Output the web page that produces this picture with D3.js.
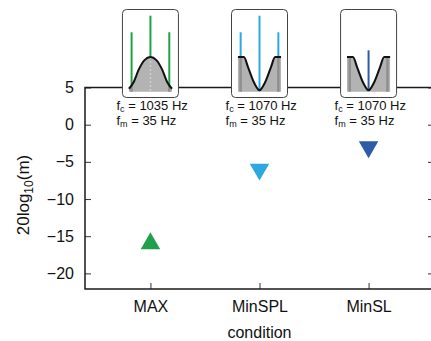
<!DOCTYPE html>
<html>
<head>
<meta charset="utf-8">
<script src="https://cdn.jsdelivr.net/npm/d3@7"></script>
<style>
  body { margin: 0; background: #fff; }
  svg { font-family: "Liberation Sans", Arial, sans-serif; }
</style>
</head>
<body>
<div id="chart"></div>
<script>
// condition data
const categories = ["MAX", "MinSPL", "MinSL"];
const values = [-16, -6, -3];
const markerDirs = ["up", "down", "down"];
const colors = ["#21a04b", "#2ea8e0", "#2d5ba8"];
const yTicks = [5, 0, -5, -10, -15, -20];

// inset (stimulus sketch) data
const carrierHz = [1035, 1070, 1070];
const modHz = [35, 35, 35];
const carrierLevel = [1, 1, 0.54];
const sidebandLevel = [0.78, 0.78, 0];
const filterKind = ["bump", "notch", "notch"];
const bumpHz = [-40, -31, -22, -11, 0, 11, 22, 31, 40];
const bumpLevel = [0.03, 0.12, 0.28, 0.41, 0.45, 0.41, 0.28, 0.12, 0.03];
const notchHz = [-40, -29, -21, -10, 0, 10, 21, 29, 40];
const notchLevel = [0.45, 0.45, 0.31, 0.11, 0.01, 0.11, 0.31, 0.45, 0.45];

const width = 431, height = 341;
const plotLeft = 85, plotRight = 434, plotTop = 87.5, plotBottom = 289;

const svg = d3.select("#chart").append("svg")
  .attr("width", width)
  .attr("height", height);

const x = d3.scalePoint()
  .domain(categories)
  .range([plotLeft, plotRight])
  .padding(0.6);

const y = d3.scaleLinear()
  .domain([-22.1, 5])
  .range([plotBottom, plotTop]);

// axes (ticks pointing inward)
const yAxis = svg.append("g")
  .attr("transform", "translate(" + plotLeft + ",0)")
  .call(d3.axisLeft(y).tickValues(yTicks).tickSize(-6).tickPadding(11));
yAxis.select(".domain").remove();
yAxis.selectAll("text").style("font-size", "16px").attr("fill", "#111");

const yAxisR = svg.append("g")
  .attr("transform", "translate(" + plotRight + ",0)")
  .call(d3.axisRight(y).tickValues(yTicks).tickSize(-6).tickFormat(""));
yAxisR.select(".domain").remove();

const xAxis = svg.append("g")
  .attr("transform", "translate(0," + plotBottom + ")")
  .call(d3.axisBottom(x).tickSize(-6).tickPadding(12));
xAxis.select(".domain").remove();
xAxis.selectAll("text").style("font-size", "16px").attr("fill", "#111");

svg.selectAll(".tick line").attr("stroke", "#333");

// frame
svg.append("path")
  .attr("d", "M" + width + "," + plotTop + "H" + plotLeft + "V" + plotBottom + "H" + width)
  .attr("fill", "none")
  .attr("stroke", "#1a1a1a")
  .attr("stroke-width", 1.5);

// axis titles
svg.append("text")
  .attr("x", x("MinSPL"))
  .attr("y", 338)
  .attr("text-anchor", "middle")
  .style("font-size", "16px")
  .attr("fill", "#111")
  .text("condition");

const yTitle = svg.append("text")
  .attr("transform", "translate(29,195) rotate(-90)")
  .attr("text-anchor", "middle")
  .style("font-size", "17px")
  .attr("fill", "#111");
yTitle.append("tspan").text("20log");
yTitle.append("tspan").attr("dy", 4).style("font-size", "12px").text("10");
yTitle.append("tspan").attr("dy", -4).text("(m)");

// markers
svg.selectAll(".marker")
  .data(categories)
  .enter()
  .append("path")
  .attr("class", "marker")
  .attr("d", d3.symbol().type(d3.symbolTriangle).size(165))
  .attr("transform", (d, i) => "translate(" + x(d) + "," + y(values[i]) + ")" +
    (markerDirs[i] === "down" ? " rotate(180)" : ""))
  .attr("fill", (d, i) => colors[i]);

// insets
const insetY = d3.scaleLinear().domain([0, 1]).range([91, 15.7]);

categories.forEach((cat, i) => {
  const cx = x(cat);
  const fc = carrierHz[i], fm = modHz[i];
  const fx = d3.scaleLinear().domain([fc - 52, fc + 52]).range([cx - 28, cx + 28]);
  const g = svg.append("g");

  g.append("rect")
    .attr("x", cx - 28)
    .attr("y", 9.5)
    .attr("width", 56)
    .attr("height", 88)
    .attr("rx", 4)
    .attr("fill", "#fff")
    .attr("stroke", "#444")
    .attr("stroke-width", 1);

  const hz = filterKind[i] === "bump" ? bumpHz : notchHz;
  const lev = filterKind[i] === "bump" ? bumpLevel : notchLevel;
  const shape = hz.map((h, k) => ({ f: fc + h, a: lev[k] }));
  const levelAt = d3.scaleLinear().domain(hz.map(h => fc + h)).range(lev).clamp(true);

  const lines = [
    { f: fc - fm, a: sidebandLevel[i], side: true },
    { f: fc, a: carrierLevel[i], side: false },
    { f: fc + fm, a: sidebandLevel[i], side: true }
  ];

  // spectral lines (coloured part above the filter curve)
  g.selectAll(".spec")
    .data(lines.filter(l => l.a > 0))
    .enter()
    .append("line")
    .attr("x1", d => fx(d.f))
    .attr("x2", d => fx(d.f))
    .attr("y1", d => insetY(d.a))
    .attr("y2", d => insetY(Math.min(d.a, levelAt(d.f))))
    .attr("stroke", colors[i])
    .attr("stroke-width", 2);

  // filter area
  g.append("path")
    .datum(shape)
    .attr("d", d3.area()
      .x(d => fx(d.f))
      .y0(insetY(-0.01))
      .y1(d => insetY(d.a))
      .curve(d3.curveMonotoneX))
    .attr("fill", "#b3b3b3");

  // line positions inside the filter area
  g.selectAll(".strip")
    .data(lines)
    .enter()
    .append("line")
    .attr("x1", d => fx(d.f))
    .attr("x2", d => fx(d.f))
    .attr("y1", d => insetY(levelAt(d.f)))
    .attr("y2", insetY(-0.01))
    .attr("stroke", d => d.side ? "#8f8f8f" : "#d0d0d0")
    .attr("stroke-width", d => d.side ? 2.5 : 1.5)
    .attr("stroke-dasharray", d => d.side ? null : "2,2");

  g.append("path")
    .datum(shape)
    .attr("d", d3.line()
      .x(d => fx(d.f))
      .y(d => insetY(d.a))
      .curve(d3.curveMonotoneX))
    .attr("fill", "none")
    .attr("stroke", "#111")
    .attr("stroke-width", 2);

  // labels
  const t1 = g.append("text")
    .attr("x", cx - 34)
    .attr("y", 110)
    .style("font-size", "13px")
    .attr("fill", "#111");
  t1.append("tspan").text("f");
  t1.append("tspan").attr("dy", 2).style("font-size", "9px").text("c");
  t1.append("tspan").attr("dy", -2).text(" = " + fc + " Hz");

  const t2 = g.append("text")
    .attr("x", cx - 34)
    .attr("y", 124.5)
    .style("font-size", "13px")
    .attr("fill", "#111");
  t2.append("tspan").text("f");
  t2.append("tspan").attr("dy", 2.5).style("font-size", "9px").text("m");
  t2.append("tspan").attr("dy", -2.5).text(" = " + fm + " Hz");
});
</script>
</body>
</html>
